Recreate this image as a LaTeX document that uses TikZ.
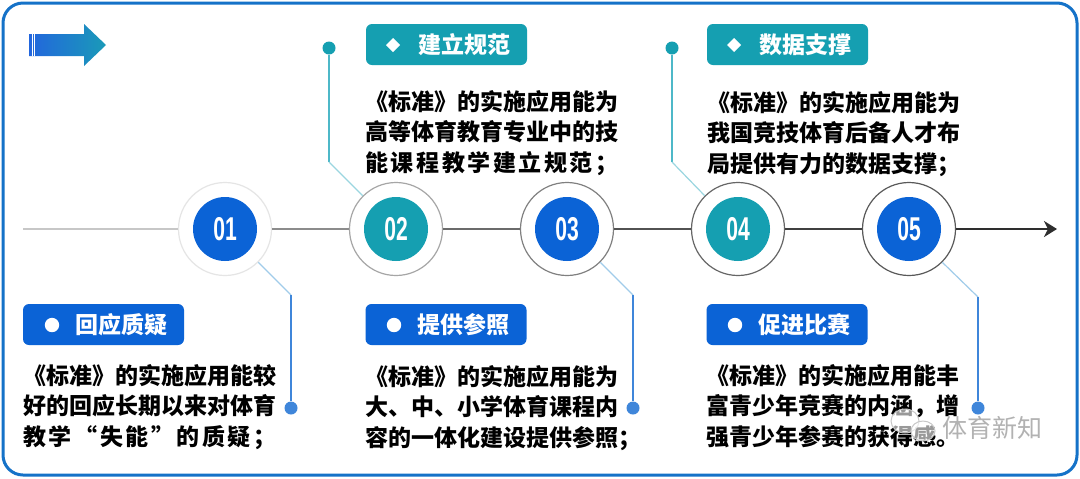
\documentclass[tikz,border=0pt]{standalone}
\usepackage{fontspec}
\setmainfont{Liberation Sans}
\newfontfamily\cjk{Noto Sans CJK SC}
\usetikzlibrary{arrows.meta}
\definecolor{frameblue}{HTML}{1572C8}
\definecolor{numblue}{HTML}{0B63D6}
\definecolor{numteal}{HTML}{159FB1}
\definecolor{lineteal}{HTML}{4DB8C8}
\definecolor{lightteal}{HTML}{9AD6E0}
\definecolor{lineblue}{HTML}{3F86DA}
\definecolor{lightblue}{HTML}{A0CCEA}
\definecolor{arrowblue}{HTML}{2266DD}
\definecolor{arrowteal}{HTML}{1A9AB8}
\ExplSyntaxOn
\NewDocumentCommand\sline{O{126.5pt}m}{
  \hbox_to_wd:nn {#1} {
    \bool_set_true:N \l_tmpa_bool
    \tl_map_inline:nn {#2} {
      \bool_if:NF \l_tmpa_bool { \hfil }
      \bool_set_false:N \l_tmpa_bool
      ##1
    }
  }
}
\ExplSyntaxOff
\begin{document}
\begin{tikzpicture}[x=0.5pt,y=-0.5pt,
  outer/.style={circle, draw=#1, fill=white, line width=0.6pt, minimum size=46.5pt, inner sep=0pt},
  inner/.style={circle, fill=#1, minimum size=32pt, inner sep=0pt, text=white, font=\bfseries\fontsize{16.5}{16.5}\selectfont},
  tag/.style={rounded corners=3pt, fill=#1, minimum width=80.5pt, minimum height=20.5pt, inner sep=0pt},
  tagtext/.style={anchor=west, text=white, font=\cjk\bfseries\fontsize{11.5}{12}\selectfont, inner sep=0pt},
  body/.style={anchor=north west, align=left, inner sep=0pt, font=\cjk\bfseries\fontsize{11.5}{15.25}\selectfont},
  dot/.style={circle, fill=#1, minimum size=6.5pt, inner sep=0pt},
  tline/.style={line width=1.4pt, draw=#1},
  ]
\useasboundingbox (0,0) rectangle (1080,478);
\fill[white] (0,0) rectangle (1080,478);
\draw[frameblue, line width=1.5pt, rounded corners=10pt] (3,3) rectangle (1077,475);

% top-left arrow
\shade[left color=arrowblue, right color=arrowteal] (29,34) -- (84,34) -- (84,24) -- (106,45) -- (84,66) -- (84,56) -- (29,56) -- cycle;
\draw[white, line width=0.4pt] (32,34) -- (32,56);
\draw[white, line width=0.4pt] (34.5,34) -- (34.5,56);

% circles
\node[outer=black!10] (c1) at (225,229) {};
\node[outer=black!35] (c2) at (396,229) {};
\node[outer=black!50] (c3) at (567,229) {};
\node[outer=black!60] (c4) at (738,229) {};
\node[outer=black!65] (c5) at (909,229) {};
\node[inner=numblue] (n1) at (c1) {\scalebox{0.64}[1]{01}};
\node[inner=numteal] (n2) at (c2) {\scalebox{0.64}[1]{02}};
\node[inner=numblue] (n3) at (c3) {\scalebox{0.64}[1]{03}};
\node[inner=numteal] (n4) at (c4) {\scalebox{0.64}[1]{04}};
\node[inner=numblue] (n5) at (c5) {\scalebox{0.64}[1]{05}};

% timeline
\coordinate (t0) at (23,229);
\coordinate (t1) at (1057,229);
\draw[tline=black!22] (t0) -- (c1);
\draw[tline=black!45] (c1) -- (c2);
\draw[tline=black!58] (c2) -- (c3);
\draw[tline=black!68] (c3) -- (c4);
\draw[tline=black!75] (c4) -- (c5);
\draw[tline=black!82, -{Stealth[length=6.5pt,width=8pt,inset=2pt]}] (c5) -- (t1);

% top connectors
\node[dot=numteal] (d2) at (329,48) {};
\coordinate (b2) at (329,162);
\draw[lineteal, line width=0.6pt] (d2) -- (b2);
\draw[lightteal, line width=0.6pt] (b2) -- (c2.135);
\node[dot=numteal] (d4) at (672,48) {};
\coordinate (b4) at (672,162);
\draw[lineteal, line width=0.6pt] (d4) -- (b4);
\draw[lightteal, line width=0.6pt] (b4) -- (c4.135);

% bottom connectors
\node[dot=lineblue] (d1) at (291,408) {};
\coordinate (b1) at (291,295);
\draw[lightblue, line width=0.6pt] (c1.-45) -- (b1);
\draw[lineblue, line width=0.6pt] (b1) -- (d1);
\node[dot=lineblue] (d3) at (633,408) {};
\coordinate (b3) at (633,295);
\draw[lightblue, line width=0.6pt] (c3.-45) -- (b3);
\draw[lineblue, line width=0.6pt] (b3) -- (d3);
\node[dot=lineblue] (d5) at (978,408) {};
\coordinate (b5) at (978,297);
\draw[lightblue, line width=0.6pt] (c5.-45) -- (b5);
\draw[lineblue, line width=0.6pt] (b5) -- (d5);

% tags
\node[tag=numteal] (g2) at (446.5,44.5) {};
\fill[white] (393,38) -- (400,45) -- (393,52) -- (386,45) -- cycle;
\node[tagtext] (l2) at (418,45) {建立规范};
\node[tag=numteal] (g4) at (787.5,44.5) {};
\fill[white] (734,38) -- (741,45) -- (734,52) -- (727,45) -- cycle;
\node[tagtext] (l4) at (759,45) {数据支撑};
\node[tag=numblue] (g1) at (103.5,324.5) {};
\fill[white] (52,325) circle (3.6pt);
\node[tagtext] (l1) at (75,325) {回应质疑};
\node[tag=numblue] (g3) at (446,324.5) {};
\fill[white] (394,325) circle (3.6pt);
\node[tagtext] (l3) at (417,325) {提供参照};
\node[tag=numblue] (g5) at (787,324.5) {};
\fill[white] (735,325) circle (3.6pt);
\node[tagtext] (l5) at (758,325) {促进比赛};

% body texts
\node[body] (p1) at (23,364) {\sline{《标准》的实施应用能较}\\\sline{好的回应长期以来对体育}\\\sline{教学“失能”的质疑；}};
\node[body] (p2) at (365,90) {\sline{《标准》的实施应用能为}\\\sline{高等体育教育专业中的技}\\\sline{能课程教学建立规范；}};
\node[body] (p3) at (365,365) {\sline{《标准》的实施应用能为}\\\sline{大、中、小学体育课程内}\\\sline[132pt]{容的一体化建设提供参照；}};
\node[body] (p4) at (707,91) {\sline{《标准》的实施应用能为}\\\sline{我国竞技体育后备人才布}\\\sline{局提供有力的数据支撑；}};
\node[body] (p5) at (706,364) {\sline{《标准》的实施应用能丰}\\\sline{富青少年竞赛的内涵，增}\\\sline{强青少年参赛的获得感。}};

% watermark
\draw[black!22, fill=white, fill opacity=0.6, line width=0.5pt] (905,421) ellipse (7pt and 6pt);
\draw[black!22, fill=white, fill opacity=0.6, line width=0.5pt] (923,431) ellipse (6pt and 5pt);
\node[anchor=west, inner sep=0pt, text=black!30, font=\cjk\fontsize{12.5}{12.5}\selectfont] (wm) at (942,428) {体育新知};
\end{tikzpicture}
\end{document}
